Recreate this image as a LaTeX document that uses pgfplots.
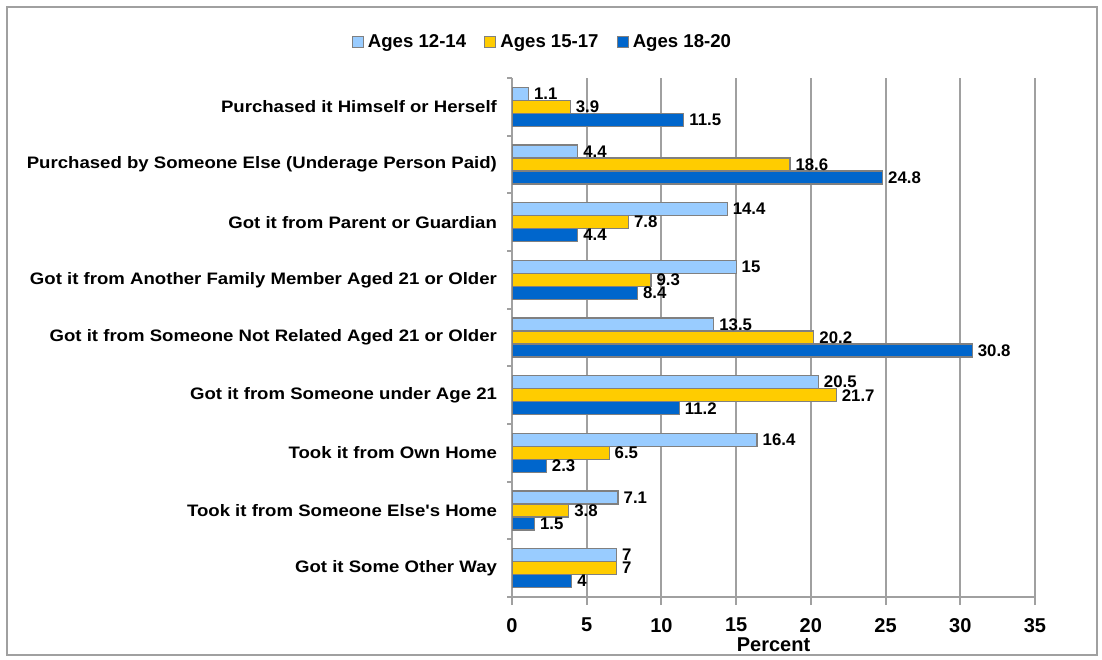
\documentclass[border=0pt]{standalone}
\usepackage{fontspec}
\setmainfont{Liberation Sans}
\newfontfamily\catfont{Liberation Sans}[FakeStretch=1.12]
\usepackage{pgfplots}
\pgfplotsset{compat=1.18}
\usepackage{pgfplotstable}
\definecolor{ageA}{HTML}{99CCFF}
\definecolor{ageB}{HTML}{FFCC00}
\definecolor{ageC}{HTML}{0066CC}
\definecolor{frameGray}{HTML}{A0A0A0}
\definecolor{barEdge}{HTML}{808080}

% idx 8 = top category
\pgfplotstableread{
idx a b c
8 1.1 3.9 11.5
7 4.4 18.6 24.8
6 14.4 7.8 4.4
5 15 9.3 8.4
4 13.5 20.2 30.8
3 20.5 21.7 11.2
2 16.4 6.5 2.3
1 7.1 3.8 1.5
0 7 7 4
}\sources

\begin{document}
\begin{tikzpicture}
\begin{scope}[x=0.5pt,y=0.5pt]
\useasboundingbox (0,0) rectangle (1102,659);
\draw[frameGray, line width=1pt] (7,4) rectangle (1097,652);
\end{scope}
\begin{axis}[
  at={(256pt,31pt)}, anchor=south west,
  scale only axis, width=261.5pt, height=259.5pt,
  xbar, bar width=6.5pt,
  xmin=0, xmax=35, ymin=-0.5, ymax=8.5,
  xtick={0,5,...,35},
  ytick={0,...,8},
  yticklabels={Got it Some Other Way, Took it from Someone Else's Home, Took it from Own Home,
    Got it from Someone under Age 21, Got it from Someone Not Related Aged 21 or Older,
    Got it from Another Family Member Aged 21 or Older, Got it from Parent or Guardian,
    Purchased by Someone Else (Underage Person Paid), Purchased it Himself or Herself},
  minor ytick={-0.5,0.5,...,8.5},
  /pgf/number format/assume math mode=true,
  axis x line*=bottom, axis y line*=left,
  axis line style={frameGray, line width=1pt},
  tick align=outside,
  major tick length=4pt, minor tick length=2.5pt,
  major y tick style={draw=none},
  tick style={frameGray, line width=1pt},
  xmajorgrids,
  major grid style={frameGray, line width=1pt},
  xticklabel style={font=\bfseries\fontsize{10}{12}\selectfont, yshift=-3pt},
  yticklabel style={font=\catfont\bfseries\fontsize{8.3}{10}\selectfont, xshift=0pt},
  xlabel={Percent},
  xlabel style={font=\bfseries\fontsize{10}{12}\selectfont, yshift=4pt},
  nodes near coords,
  nodes near coords style={font=\bfseries\fontsize{8.4}{10}\selectfont, anchor=west, xshift=2.5pt, inner sep=0pt},
  legend columns=3,
  legend style={at={(0.06,1.069)}, anchor=center, draw=none, fill=none,
    font=\bfseries\fontsize{9.3}{11}\selectfont,
    /tikz/every even column/.append style={column sep=7pt}},
  legend image code/.code={\draw[#1, line width=0.6pt] (0pt,-2.75pt) rectangle (5.5pt,2.75pt);},
]
\addplot[fill=ageA, draw=barEdge, line width=0.6pt, bar shift=6.5pt] table[x=a, y=idx] {\sources};
\addplot[fill=ageB, draw=barEdge, line width=0.6pt, bar shift=0pt] table[x=b, y=idx] {\sources};
\addplot[fill=ageC, draw=barEdge, line width=0.6pt, bar shift=-6.5pt] table[x=c, y=idx] {\sources};
\legend{Ages 12-14, Ages 15-17, Ages 18-20}
\end{axis}
\end{tikzpicture}
\end{document}
